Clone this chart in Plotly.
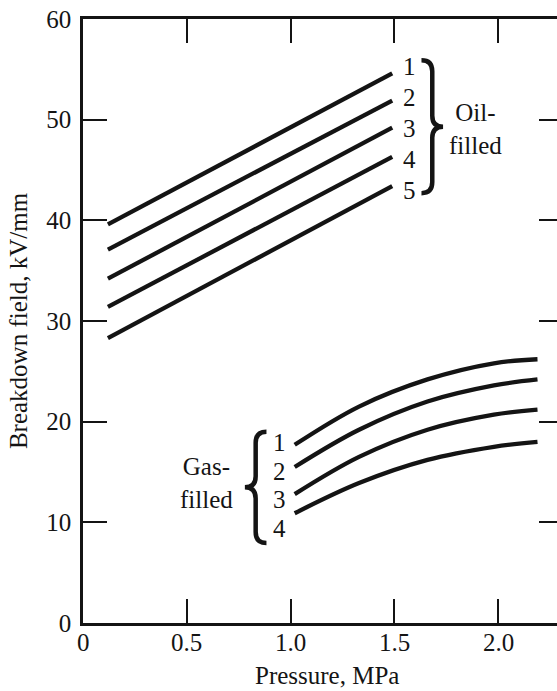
import plotly.graph_objects as go
import numpy as np

# ---------------- data ----------------
oil_x = [0.12, 1.49]
oil_1 = [39.6, 54.6]
oil_2 = [37.1, 51.9]
oil_3 = [34.2, 49.2]
oil_4 = [31.4, 46.3]
oil_5 = [28.3, 43.4]
oil_series = [oil_1, oil_2, oil_3, oil_4, oil_5]
oil_labels = ["1", "2", "3", "4", "5"]

gas_x = [1.02, 1.33, 1.66, 1.98, 2.19]
gas_1 = [17.7, 21.5, 24.2, 25.8, 26.2]
gas_2 = [15.5, 19.2, 22.0, 23.6, 24.2]
gas_3 = [12.8, 16.5, 19.2, 20.7, 21.2]
gas_4 = [10.9, 13.9, 16.2, 17.5, 18.0]
gas_series = [gas_1, gas_2, gas_3, gas_4]
gas_labels = ["1", "2", "3", "4"]

x_tickvals = [0, 0.5, 1.0, 1.5, 2.0]
x_ticktext = ["0", "0.5", "1.0", "1.5", "2.0"]
y_tickvals = [0, 10, 20, 30, 40, 50, 60]
y_ticktext = ["0", "10", "20", "30", "40", "50", "60"]

x_title = "Pressure, MPa"
y_title = "Breakdown field, kV/mm"
oil_group = "Oil-<br>filled"
gas_group = "Gas-<br>filled"

# ---------------- style ----------------
FONT = "Liberation Serif"
FS = 25
INK = "#141414"
LW = 4.3
TXT = dict(family=FONT, size=FS, color=INK)

fig = go.Figure()

for ys in oil_series:
    fig.add_trace(go.Scatter(x=oil_x, y=ys, mode="lines",
                             line=dict(color=INK, width=LW),
                             showlegend=False, hoverinfo="skip"))
for ys in gas_series:
    fig.add_trace(go.Scatter(x=gas_x, y=ys, mode="lines",
                             line=dict(color=INK, width=LW, shape="spline", smoothing=1.0),
                             showlegend=False, hoverinfo="skip"))

# invisible trace to activate right-hand tick axis
fig.add_trace(go.Scatter(x=[0], y=[0], yaxis="y2", mode="lines",
                         line=dict(width=0), showlegend=False, hoverinfo="skip"))

annotations = []
# x tick labels (placed slightly closer to the axis than plotly's default)
for tv, tt in zip(x_tickvals, x_ticktext):
    annotations.append(dict(x=tv, y=0, xref="x", yref="paper", text=tt,
                            showarrow=False, yanchor="top", yshift=-4, font=TXT))
# x axis title
annotations.append(dict(x=0.515, y=0, xref="paper", yref="paper", text=x_title,
                        showarrow=False, yanchor="middle", yshift=-52, font=TXT))

# curve number labels
oil_lab_y = np.linspace(oil_1[-1] + 0.7, oil_5[-1] - 0.4, len(oil_labels))
for lab, yv in zip(oil_labels, oil_lab_y):
    annotations.append(dict(x=1.575, y=yv, xref="x", yref="y", text=lab,
                            showarrow=False, font=TXT))
gas_lab_y = np.linspace(gas_1[0] + 0.2, gas_1[0] + 0.2 - 3 * 2.83, len(gas_labels))
for lab, yv in zip(gas_labels, gas_lab_y):
    annotations.append(dict(x=0.948, y=yv, xref="x", yref="y", text=lab,
                            showarrow=False, font=TXT))

annotations.append(dict(x=1.89, y=49.1, xref="x", yref="y", text=oil_group,
                        showarrow=False, align="center", font=TXT))
annotations.append(dict(x=0.594, y=13.9, xref="x", yref="y", text=gas_group,
                        showarrow=False, align="center", font=TXT))


def brace_path(x0, w, yt, yb, d):
    """Curly brace; w>0 opens to the right '}' ; w<0 gives '{'."""
    xm = x0 + w / 2
    ym = (yt + yb) / 2
    xt = x0 + w
    return (f"M {x0},{yt} Q {xm},{yt} {xm},{yt - d} "
            f"L {xm},{ym + d} Q {xm},{ym} {xt},{ym} "
            f"Q {xm},{ym} {xm},{ym - d} "
            f"L {xm},{yb + d} Q {xm},{yb} {x0},{yb}")


shapes = [
    dict(type="path", xref="x", yref="y",
         path=brace_path(1.631, 0.104, 55.9, 42.7, 1.1),
         line=dict(color=INK, width=4.5)),
    dict(type="path", xref="x", yref="y",
         path=brace_path(0.884, -0.104, 19.0, 7.95, 1.1),
         line=dict(color=INK, width=4.5)),
]

fig.update_layout(
    width=557, height=691,
    margin=dict(l=83, r=0, t=19, b=68),
    paper_bgcolor="white", plot_bgcolor="white",
    showlegend=False,
    font=TXT,
    annotations=annotations,
    shapes=shapes,
    xaxis=dict(range=[0, 2.284], tickvals=x_tickvals,
               ticks="inside", ticklen=24, tickwidth=2, tickcolor=INK,
               showline=True, linewidth=2.5, linecolor=INK, mirror="ticks",
               showgrid=False, zeroline=False, showticklabels=False),
    yaxis=dict(range=[0, 60], tickvals=y_tickvals, ticktext=y_ticktext,
               ticks="inside", ticklen=24, tickwidth=2, tickcolor=INK,
               showline=True, linewidth=2.5, linecolor=INK, mirror=False,
               showgrid=False, zeroline=False,
               tickfont=TXT, ticklabelstandoff=4,
               title=dict(text=y_title, standoff=12, font=TXT)),
    yaxis2=dict(range=[0, 60], overlaying="y", side="right",
                tickvals=[10, 20, 30, 40, 50], ticks="inside", ticklen=18,
                tickwidth=2, tickcolor=INK, showticklabels=False,
                showline=False, showgrid=False, zeroline=False),
)

fig.write_html("out.html")
